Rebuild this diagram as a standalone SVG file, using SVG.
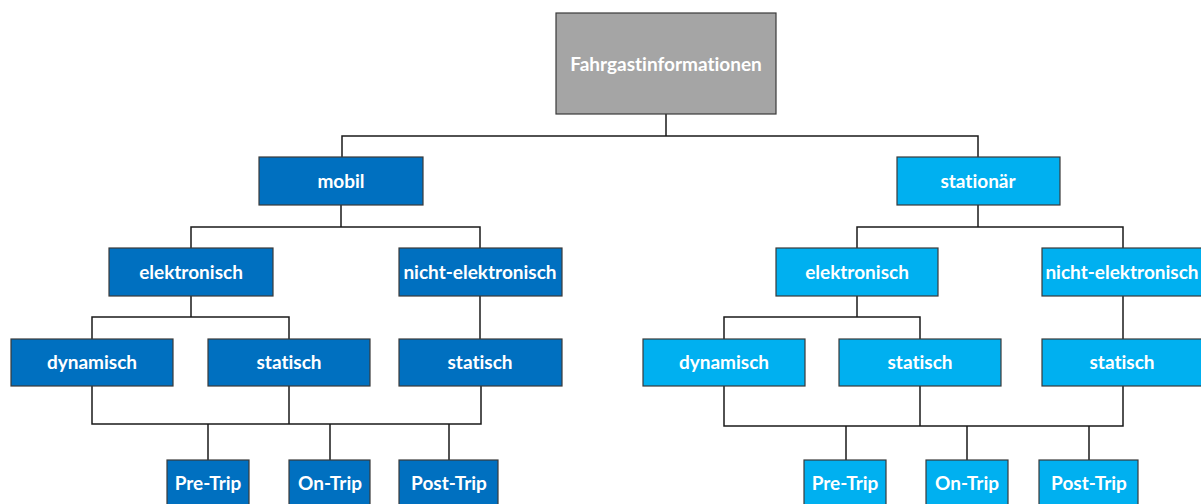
<svg xmlns="http://www.w3.org/2000/svg" width="1201" height="504" viewBox="0 0 1201 504">
<style>
rect{stroke:#3a3a3a;stroke-width:1.2}
.g{fill:#A5A5A5}
.d{fill:#0070C0}
.l{fill:#00B0F0}
text{font-family:Lato,"Open Sans","Liberation Sans",sans-serif;font-weight:bold;font-size:19px;fill:#fff;text-anchor:middle;dominant-baseline:central;font-variant-ligatures:none}
.c{fill:none;stroke:#1a1a1a;stroke-width:1.5}
</style>
<rect width="1201" height="504" fill="#fff" style="stroke:none"/>
<g id="connectors" class="c">
<path d="M666 114V136M342 157V136H978V157"/>
<path d="M341 205V227M191 248V227H480V248"/>
<path d="M191 296V317M92 339V317H289V339"/>
<path d="M480 296V339"/>
<path d="M92 386V424H481V386M289 386V424M208 424V460M330 424V460M449 424V460"/>
<path d="M978 205V227M857 248V227H1123V248"/>
<path d="M857 296V317M724 339V317H920V339"/>
<path d="M1123 296V339"/>
<path d="M724 386V426H1123V386M920 386V426M846 426V460M967 426V460M1089 426V460"/>
</g>
<g id="root"><rect class="g" x="556" y="13" width="220" height="101"/><text x="666" y="63">Fahrgastinformationen</text></g>
<g id="mobil"><rect class="d" x="259" y="157" width="164" height="48"/><text x="341" y="180">mobil</text></g>
<g id="m-elektronisch"><rect class="d" x="109" y="248" width="164" height="48"/><text x="191" y="271">elektronisch</text></g>
<g id="m-nicht-elektronisch"><rect class="d" x="399" y="248" width="163" height="48"/><text x="480" y="271">nicht-elektronisch</text></g>
<g id="m-dynamisch"><rect class="d" x="11" y="339" width="162" height="47"/><text x="92" y="361">dynamisch</text></g>
<g id="m-statisch1"><rect class="d" x="208" y="339" width="162" height="47"/><text x="289" y="361">statisch</text></g>
<g id="m-statisch2"><rect class="d" x="399" y="339" width="163" height="47"/><text x="480" y="361">statisch</text></g>
<g id="m-pre"><rect class="d" x="167" y="460" width="82" height="47"/><text x="208" y="482">Pre-Trip</text></g>
<g id="m-on"><rect class="d" x="289" y="460" width="81" height="47"/><text x="330" y="482">On-Trip</text></g>
<g id="m-post"><rect class="d" x="399" y="460" width="99" height="47"/><text x="449" y="482">Post-Trip</text></g>
<g id="stationaer"><rect class="l" x="897" y="157" width="163" height="48"/><text x="978" y="180">stationär</text></g>
<g id="s-elektronisch"><rect class="l" x="776" y="248" width="162" height="48"/><text x="857" y="271">elektronisch</text></g>
<g id="s-nicht-elektronisch"><rect class="l" x="1042" y="248" width="162" height="48"/><text x="1122" y="271">nicht-elektronisch</text></g>
<g id="s-dynamisch"><rect class="l" x="643" y="339" width="162" height="47"/><text x="724" y="361">dynamisch</text></g>
<g id="s-statisch1"><rect class="l" x="839" y="339" width="162" height="47"/><text x="920" y="361">statisch</text></g>
<g id="s-statisch2"><rect class="l" x="1042" y="339" width="162" height="47"/><text x="1122" y="361">statisch</text></g>
<g id="s-pre"><rect class="l" x="804" y="460" width="82" height="47"/><text x="845" y="482">Pre-Trip</text></g>
<g id="s-on"><rect class="l" x="926" y="460" width="82" height="47"/><text x="967" y="482">On-Trip</text></g>
<g id="s-post"><rect class="l" x="1039" y="460" width="99" height="47"/><text x="1089" y="482">Post-Trip</text></g>
</svg>
